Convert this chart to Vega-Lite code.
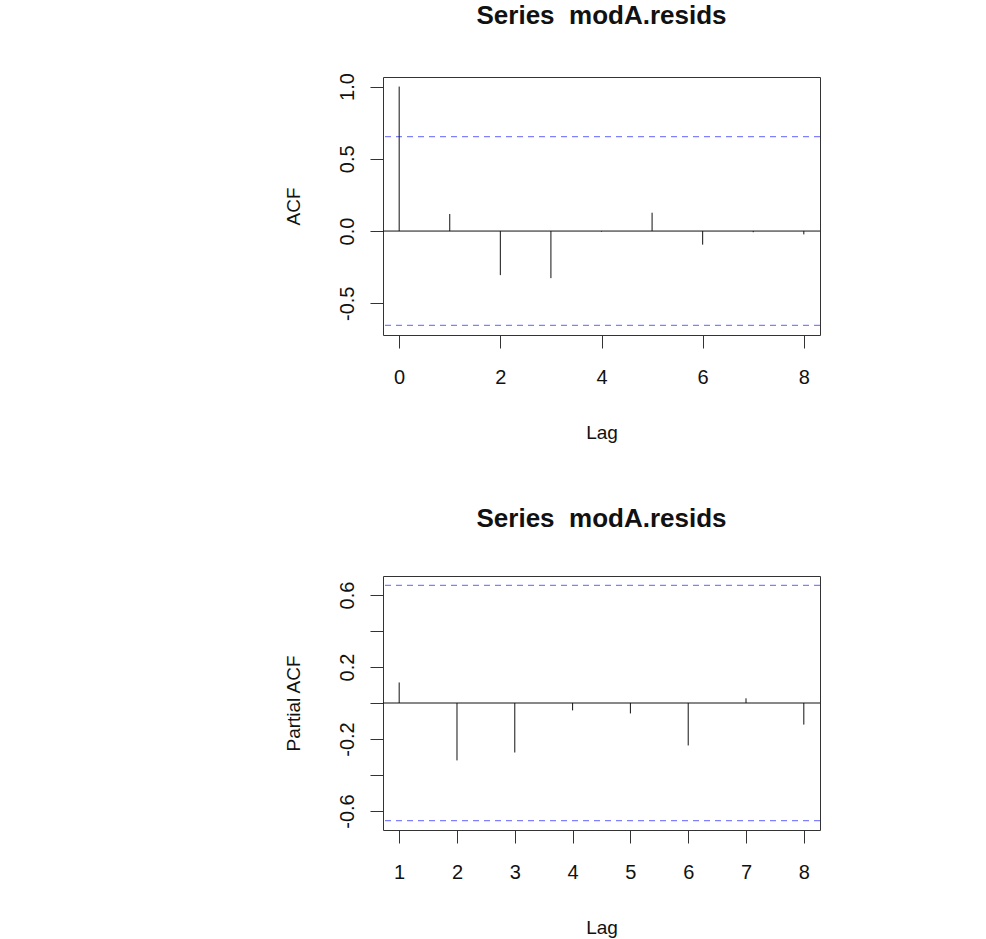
{
  "$schema": "https://vega.github.io/schema/vega-lite/v6.json",
  "padding": {"left": 283, "top": 2, "right": 10, "bottom": 5},
  "background": "white",
  "datasets": {
    "acf": [
      {"lag": 0, "acf": 1.0},
      {"lag": 1, "acf": 0.118},
      {"lag": 2, "acf": -0.305},
      {"lag": 3, "acf": -0.326},
      {"lag": 4, "acf": -0.004},
      {"lag": 5, "acf": 0.127},
      {"lag": 6, "acf": -0.094},
      {"lag": 7, "acf": -0.008},
      {"lag": 8, "acf": -0.023}
    ],
    "pacf": [
      {"lag": 1, "pacf": 0.114},
      {"lag": 2, "pacf": -0.319},
      {"lag": 3, "pacf": -0.275},
      {"lag": 4, "pacf": -0.041},
      {"lag": 5, "pacf": -0.058},
      {"lag": 6, "pacf": -0.236},
      {"lag": 7, "pacf": 0.026},
      {"lag": 8, "pacf": -0.12}
    ],
    "bounds": [{"bound": 0.6533}, {"bound": -0.6533}],
    "zero": [{"level": 0}]
  },
  "config": {
    "font": "Liberation Sans",
    "view": {"stroke": "#333", "strokeWidth": 1},
    "axis": {
      "domain": false,
      "grid": false,
      "tickColor": "#333",
      "tickSize": 13,
      "labelFontSize": 20,
      "labelColor": "#111",
      "titleFontSize": 19,
      "titleFontWeight": "normal",
      "titleColor": "#111",
      "labelFlush": false,
      "labelOverlap": false
    },
    "axisX": {"labelPadding": 19, "titlePadding": 36},
    "axisY": {"labelAngle": -90, "labelAlign": "center", "labelBaseline": "alphabetic", "labelPadding": 17, "titlePadding": 34},
    "title": {"fontSize": 26, "fontWeight": "bold", "color": "#111", "offset": 44}
  },
  "spacing": 62,
  "vconcat": [
    {
      "width": 437,
      "height": 258,
      "title": "Series\u00a0 modA.resids",
      "layer": [
        {
          "data": {"name": "bounds"},
          "mark": {"type": "rule", "color": "#8080ff", "strokeWidth": 1.3, "strokeDash": [6, 5]},
          "encoding": {
            "y": {"field": "bound", "type": "quantitative", "title": "ACF",
                  "scale": {"domain": [-0.7194, 1.0661], "nice": false, "zero": false},
                  "axis": {"values": [-0.5, 0, 0.5, 1], "labelExpr": "replace(format(datum.value, '.1f'), '\u2212', '-')"}}
          }
        },
        {
          "data": {"name": "zero"},
          "mark": {"type": "rule", "color": "#111", "strokeWidth": 1},
          "encoding": {
            "y": {"field": "level", "type": "quantitative", "title": "ACF"}
          }
        },
        {
          "data": {"name": "acf"},
          "mark": {"type": "rule", "color": "#111", "strokeWidth": 1},
          "encoding": {
            "x": {"field": "lag", "type": "quantitative", "title": "Lag",
                  "scale": {"domain": [-0.32, 8.32], "nice": false, "zero": false},
                  "axis": {"values": [0, 2, 4, 6, 8], "format": "d"}},
            "y": {"field": "acf", "type": "quantitative", "title": "ACF"},
            "y2": {"datum": 0}
          }
        }
      ]
    },
    {
      "width": 437,
      "height": 254,
      "title": "Series\u00a0 modA.resids",
      "layer": [
        {
          "data": {"name": "bounds"},
          "mark": {"type": "rule", "color": "#8080ff", "strokeWidth": 1.3, "strokeDash": [6, 5]},
          "encoding": {
            "y": {"field": "bound", "type": "quantitative", "title": "Partial ACF",
                  "scale": {"domain": [-0.7056, 0.7056], "nice": false, "zero": false},
                  "axis": {"values": [-0.6, -0.4, -0.2, 0, 0.2, 0.4, 0.6],
                           "labelExpr": "abs(datum.value) > 0.1 && abs(abs(datum.value) - 0.4) > 0.05 ? replace(format(datum.value, '.1f'), '\u2212', '-') : ''"}}
          }
        },
        {
          "data": {"name": "zero"},
          "mark": {"type": "rule", "color": "#111", "strokeWidth": 1},
          "encoding": {
            "y": {"field": "level", "type": "quantitative", "title": "Partial ACF"}
          }
        },
        {
          "data": {"name": "pacf"},
          "mark": {"type": "rule", "color": "#111", "strokeWidth": 1},
          "encoding": {
            "x": {"field": "lag", "type": "quantitative", "title": "Lag",
                  "scale": {"domain": [0.72, 8.28], "nice": false, "zero": false},
                  "axis": {"values": [1, 2, 3, 4, 5, 6, 7, 8], "format": "d"}},
            "y": {"field": "pacf", "type": "quantitative", "title": "Partial ACF"},
            "y2": {"datum": 0}
          }
        }
      ]
    }
  ]
}
